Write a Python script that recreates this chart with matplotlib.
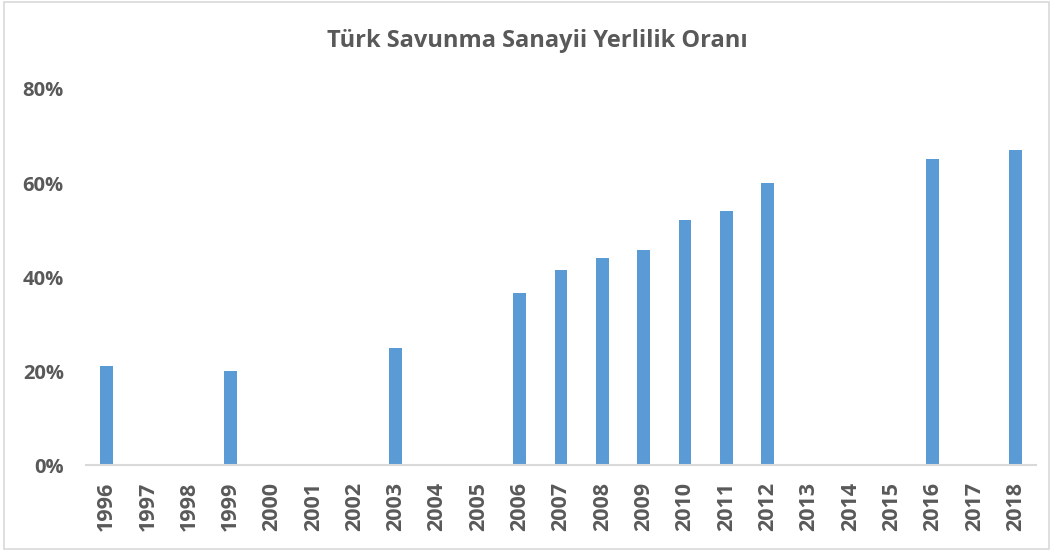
import matplotlib
matplotlib.use("Agg")
import matplotlib.pyplot as plt
from matplotlib.patches import Rectangle
from matplotlib.ticker import FuncFormatter

years = [str(y) for y in range(1996, 2019)]
# yerlilik orani (%) - empty years have no bar
values = [21, None, None, 20, None, None, None, 25, None, None,
          36.6, 41.5, 44, 45.7, 52.1, 54, 60, None, None, None,
          65.1, None, 67]

plt.rcParams['font.family'] = ['Open Sans', 'DejaVu Sans']
grey = '#595959'

fig = plt.figure(figsize=(10.53, 5.51), dpi=100)
ax = fig.add_axes([0.0817, 0.156, 0.9023, 0.6825])

x = list(range(len(years)))
heights = [v if v is not None else 0 for v in values]
ax.bar(x, heights, width=0.31, color='#5B9BD5')

ax.set_xlim(-0.5, len(years) - 0.5)
ax.set_ylim(0, 80)
ax.set_yticks([0, 20, 40, 60, 80])
ax.yaxis.set_major_formatter(FuncFormatter(lambda v, p: f'{v:.0f}%'))
ax.set_xticks(x)
ax.set_xticklabels(years, rotation=90)

for s in ['top', 'right', 'left']:
    ax.spines[s].set_visible(False)
ax.spines['bottom'].set_color('#D9D9D9')
ax.spines['bottom'].set_linewidth(1.5)
ax.tick_params(axis='both', length=0, colors=grey)
ax.tick_params(axis='y', pad=16, labelsize=14.5)
ax.tick_params(axis='x', pad=12, labelsize=15.5)
for lbl in ax.get_xticklabels() + ax.get_yticklabels():
    lbl.set_fontweight('bold')

fig.text(0.51, 0.925, 'Türk Savunma Sanayii Yerlilik Oranı', ha='center', va='center',
         fontsize=17, fontweight='bold', color=grey)

fig.patches.append(Rectangle((0.004, 0.004), 0.992, 0.992, transform=fig.transFigure,
                             fill=False, edgecolor='#D9D9D9', linewidth=1.2))

fig.savefig('out.png', dpi=100)
